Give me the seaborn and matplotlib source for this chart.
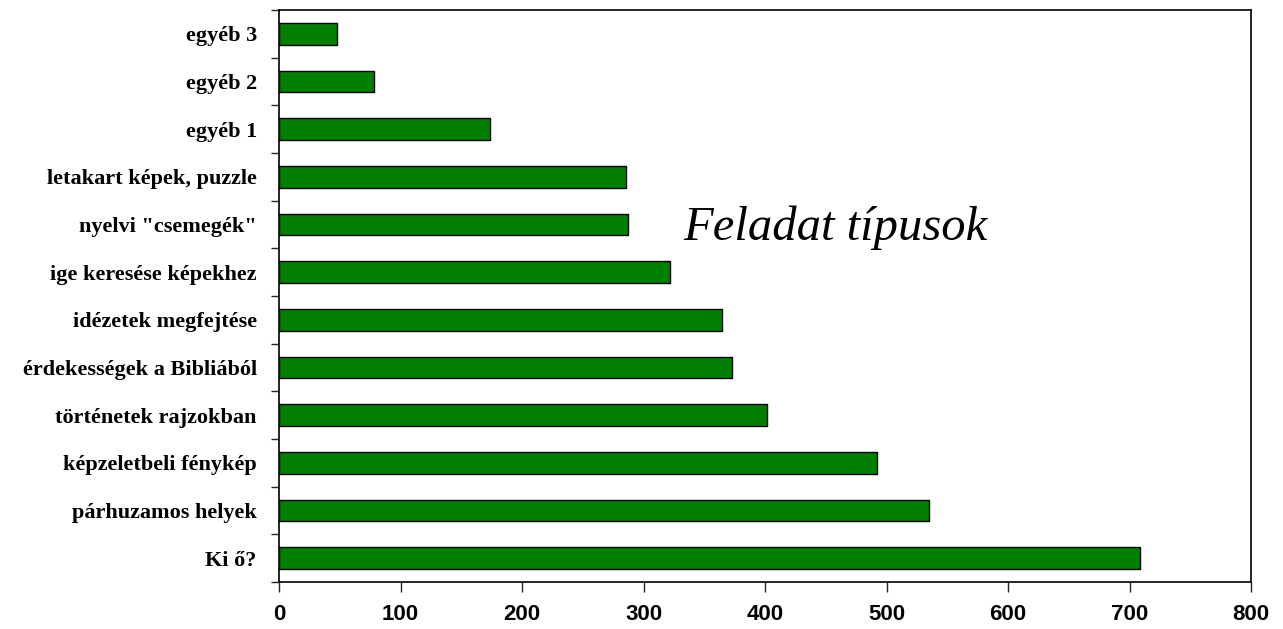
import numpy as np
import pandas as pd
import matplotlib
matplotlib.use("Agg")
import matplotlib.pyplot as plt
import seaborn as sns

# adatok (fentről lefelé)
categories = ['egyéb 3', 'egyéb 2', 'egyéb 1', 'letakart képek, puzzle',
              'nyelvi "csemegék"', 'ige keresése képekhez', 'idézetek megfejtése',
              'érdekességek a Bibliából', 'történetek rajzokban',
              'képzeletbeli fénykép', 'párhuzamos helyek', 'Ki ő?']
values = [48, 78, 174, 286, 287, 322, 365, 373, 402, 492, 535, 709]
xticks = [0, 100, 200, 300, 400, 500, 600, 700, 800]

df = pd.DataFrame({'tipus': categories, 'db': values})

sns.set_style('white')
plt.rcParams['text.color'] = 'black'
fig = plt.figure(figsize=(12.83, 6.29), dpi=100)
ax = fig.add_axes([279 / 1283, 1 - 582 / 629, 972 / 1283, 572 / 629])

sns.barplot(data=df, x='db', y='tipus', order=categories, orient='h',
            color='#007f00', saturation=1, width=0.46,
            edgecolor='black', linewidth=1, ax=ax)

ax.set_xlim(0, 800)
ax.set_ylim(len(categories) - 0.5, -0.5)
ax.set_xticks(xticks)
ax.set_xticklabels([str(t) for t in xticks], fontfamily='Liberation Sans',
                   fontweight='bold', fontsize=16, color='black')
ax.set_yticks(range(len(categories)))
ax.set_yticklabels(categories, fontfamily='Liberation Serif',
                   fontweight='bold', fontsize=16, color='black')
ax.set_yticks(np.arange(-0.5, len(categories), 1), minor=True)
ax.tick_params(axis='y', which='major', length=0, pad=16)
ax.tick_params(axis='y', which='minor', length=6, width=1, direction='out', left=True)
ax.tick_params(axis='x', which='major', length=7, width=1, direction='out',
               bottom=True, pad=9)
ax.set_xlabel('')
ax.set_ylabel('')
for s in ax.spines.values():
    s.set_visible(True)
    s.set_color('black')
    s.set_linewidth(1.2)

ax.text(0.572, 0.62, 'Feladat típusok', transform=ax.transAxes,
        fontfamily='Liberation Serif', fontstyle='italic', fontsize=35,
        color='black', ha='center', va='center')

fig.savefig('out.png', dpi=100)
